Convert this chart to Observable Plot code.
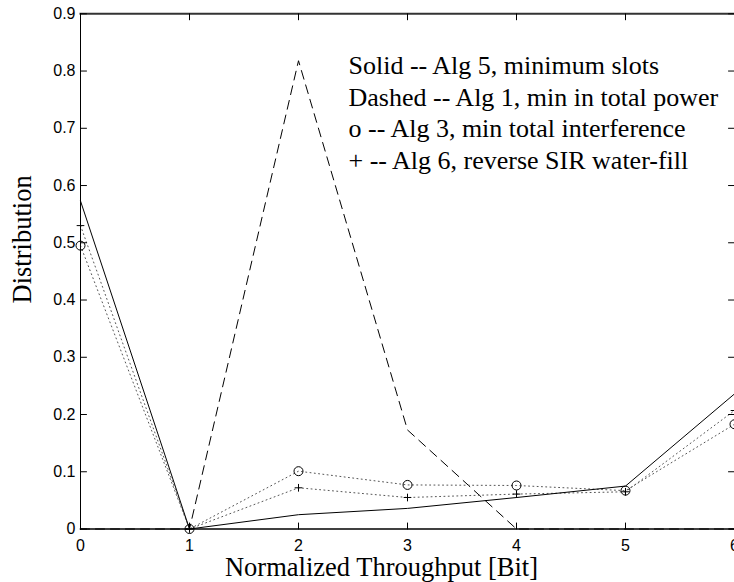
<!DOCTYPE html>
<html>
<head>
<meta charset="utf-8">
<script src="https://cdn.jsdelivr.net/npm/d3@7"></script>
<script src="https://cdn.jsdelivr.net/npm/@observablehq/plot@0.6"></script>
<style>
  html, body { margin: 0; padding: 0; background: #fff; }
  #chart svg { display: block; }
</style>
</head>
<body>
<div id="chart"></div>
<script>
// ---- data ----
const throughput = [0, 1, 2, 3, 4, 5, 6];
const alg5MinSlots = [0.573, 0, 0.025, 0.036, 0.055, 0.075, 0.236];
const alg1MinPower = [0, 0, 0.818, 0.173, 0, 0, 0];
const alg3MinInterf = [0.495, 0, 0.101, 0.077, 0.076, 0.067, 0.183];
const alg6ReverseSIR = [0.53, 0, 0.072, 0.055, 0.061, 0.065, 0.207];

const xTicks = [0, 1, 2, 3, 4, 5, 6];
const yTicks = [0, 0.1, 0.2, 0.3, 0.4, 0.5, 0.6, 0.7, 0.8, 0.9];

const legendLines = [
  "Solid -- Alg 5, minimum slots",
  "Dashed -- Alg 1, min in total power",
  "o -- Alg 3, min total interference",
  "+ -- Alg 6, reverse SIR water-fill"
];
const xLabel = "Normalized Throughput [Bit]";
const yLabel = "Distribution";

// ---- build ----
const toRows = (vals) => throughput.map((x, i) => ({x, y: vals[i]}));
const rows5 = toRows(alg5MinSlots);
const rows1 = toRows(alg1MinPower);
const rows3 = toRows(alg3MinInterf);
const rows6 = toRows(alg6ReverseSIR);

const serif = "'Liberation Serif', 'Times New Roman', serif";
const sans = "'Liberation Sans', Arial, Helvetica, sans-serif";

const tickShape = {draw(context, l) { context.moveTo(0, 0); context.lineTo(0, -l); }};
const tickOpts = {length: 6, anchor: "start", shape: tickShape, stroke: "#000", strokeWidth: 1};

const chart = Plot.plot({
  width: 734,
  height: 582,
  marginLeft: 80,
  marginRight: 0,
  marginTop: 13.3,
  marginBottom: 53.5,
  style: {background: "#fff", color: "#000"},
  x: {domain: [0, 6]},
  y: {domain: [0, 0.9]},
  marks: [
    // series
    Plot.line(rows1, {x: "x", y: "y", stroke: "#000", strokeWidth: 1, strokeDasharray: "9,6"}),
    Plot.line(rows3, {x: "x", y: "y", stroke: "#555", strokeWidth: 1, strokeDasharray: "1,3.3"}),
    Plot.line(rows6, {x: "x", y: "y", stroke: "#555", strokeWidth: 1, strokeDasharray: "1,3.3"}),
    Plot.line(rows5, {x: "x", y: "y", stroke: "#000", strokeWidth: 1}),
    Plot.dot(rows3, {x: "x", y: "y", symbol: "circle", r: 4.5, stroke: "#000", fill: "none", strokeWidth: 1}),
    Plot.dot(rows6, {x: "x", y: "y", symbol: "plus", r: 2.6, stroke: "#000", strokeWidth: 1}),
    // frame
    Plot.frame({anchor: "top", stroke: "#333", strokeWidth: 2}),
    Plot.frame({anchor: "left", stroke: "#000", strokeWidth: 1}),
    Plot.frame({anchor: "bottom", stroke: "#000", strokeWidth: 1.5}),
    // inward ticks
    Plot.vector(xTicks, {x: d => d, frameAnchor: "bottom", rotate: 0, ...tickOpts}),
    Plot.vector(xTicks, {x: d => d, frameAnchor: "top", rotate: 180, ...tickOpts}),
    Plot.vector(yTicks, {y: d => d, frameAnchor: "left", rotate: 90, ...tickOpts}),
    Plot.vector(yTicks, {y: d => d, frameAnchor: "right", rotate: -90, ...tickOpts}),
    // tick labels
    Plot.axisX({ticks: xTicks, tickSize: 0, tickPadding: 11, tickFormat: d => String(d),
      fontSize: 16, fontFamily: sans, label: null}),
    Plot.axisY({ticks: yTicks, tickSize: 0, tickPadding: 5, tickFormat: d => String(d),
      fontSize: 16, fontFamily: sans, label: null}),
    // axis titles
    Plot.text([xLabel], {frameAnchor: "bottom", dx: -26, dy: 39, text: d => d,
      textAnchor: "middle", lineAnchor: "middle",
      fontSize: 26.5, fontFamily: serif, fill: "#000"}),
    Plot.text([yLabel], {frameAnchor: "left", dx: -57.5, dy: -32, rotate: -90, text: d => d,
      textAnchor: "middle", lineAnchor: "middle",
      fontSize: 26.5, fontFamily: serif, fill: "#000"}),
    // legend text
    Plot.text([legendLines.join("\n")], {frameAnchor: "top-left", dx: 268, dy: 97.5,
      textAnchor: "start", lineAnchor: "middle", lineHeight: 1.22, text: d => d,
      fontSize: 26, fontFamily: serif, fill: "#000"})
  ]
});

document.getElementById("chart").appendChild(chart);
</script>
</body>
</html>
